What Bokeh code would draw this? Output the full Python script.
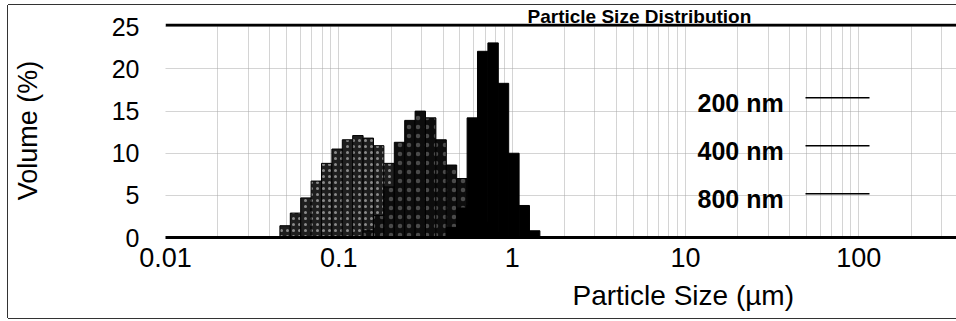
from bokeh.plotting import figure
from bokeh.models import (Range1d, FixedTicker, CustomJSTickFormatter, Label,
                          BoxAnnotation, ColumnDataSource, Title)
from bokeh.embed import file_html
from bokeh.resources import INLINE

# Size classes (µm): lower/upper edges of the instrument's log-spaced bins
size_edges = [0.04571, 0.05248, 0.06026, 0.06918, 0.07943, 0.09120, 0.10471,
              0.12023, 0.13804, 0.15849, 0.18197, 0.20893, 0.23988, 0.27542,
              0.31623, 0.36308, 0.41687, 0.47863, 0.54954, 0.63096, 0.72444,
              0.83176, 0.95499, 1.09648, 1.25893, 1.44544]

# Volume (%) per size class
vol_200nm = [1.4, 2.9, 4.7, 6.7, 8.8, 10.5, 11.6, 12.1, 11.8, 10.9, 8.8, 5.5,
             3.0, 1.2, 0.3, 0, 0, 0, 0, 0, 0, 0, 0, 0, 0]
vol_400nm = [0, 0, 0, 0, 0, 0, 0, 0, 0.8, 2.6, 6.0, 11.3, 13.9, 15.0, 14.2,
             11.6, 8.6, 7.0, 3.8, 1.8, 0.6, 0, 0, 0, 0]
vol_800nm = [0, 0, 0, 0, 0, 0, 0, 0, 0, 0, 0, 0, 0, 0, 0, 0, 1.2, 3.5, 14.2,
             22.1, 23.1, 18.3, 10.0, 3.8, 0.8]

series_names = ["200 nm", "400 nm", "800 nm"]
x_ticks = [0.01, 0.1, 1, 10, 100]
y_ticks = [0, 5, 10, 15, 20, 25]

FONT = "Liberation Sans"

p = figure(width=948, height=313, margin=(5, 0, 0, 8),
           x_axis_type="log", x_range=Range1d(0.01, 366), y_range=Range1d(0, 25.4),
           output_backend="svg", toolbar_location=None,
           min_border_left=157, min_border_right=0, min_border_top=18,
           min_border_bottom=81, background_fill_color="white",
           border_fill_color="white", outline_line_color=None)
p.styles = {"box-shadow": "-1px 0 0 #333, 0 -1px 0 #333, 0 1px 0 #333"}

lower = size_edges[:-1]
upper = size_edges[1:]
styles = [
    dict(fill_color="#1e1e1e", hatch_pattern="dot", hatch_color="#8a8a8a", hatch_scale=6, hatch_weight=1),
    dict(fill_color="#0d0d0d", hatch_pattern="dot", hatch_color="#4a4a4a", hatch_scale=9, hatch_weight=1),
    dict(fill_color="black"),
]
for vals, st in zip([vol_200nm, vol_400nm, vol_800nm], styles):
    src = ColumnDataSource(dict(left=lower, right=upper, top=vals))
    p.quad(left="left", right="right", top="top", bottom=0, source=src,
           line_color="black", line_width=1, **st)

minor = [m * t for t in [0.01, 0.1, 1, 10, 100] for m in range(2, 10)]
p.xaxis.ticker = FixedTicker(ticks=x_ticks, minor_ticks=minor)
p.xaxis.formatter = CustomJSTickFormatter(code="return tick.toString()")
p.yaxis.ticker = FixedTicker(ticks=y_ticks)

for ax in (p.xaxis[0], p.yaxis[0]):
    ax.major_tick_line_color = None
    ax.minor_tick_line_color = None
    ax.major_label_text_font = FONT
    ax.major_label_text_color = "black"
p.xaxis.axis_line_width = 3
p.xaxis.axis_line_color = "black"
p.xaxis.major_label_text_font_size = "27px"
p.xaxis.major_label_standoff = 4
p.yaxis.axis_line_color = None
p.yaxis.major_label_text_font_size = "25px"
p.yaxis.major_label_standoff = 20
p.yaxis.axis_label = "Volume (%)"
p.yaxis.axis_label_text_font = FONT
p.yaxis.axis_label_text_font_size = "27px"
p.yaxis.axis_label_text_font_style = "normal"
p.yaxis.axis_label_text_color = "black"
p.yaxis.axis_label_standoff = 66

for g in (p.xgrid[0], p.ygrid[0]):
    g.grid_line_color = "#a8a8a8"
    g.grid_line_dash = "1 1"
p.xgrid.minor_grid_line_color = "#a8a8a8"
p.xgrid.minor_grid_line_dash = "1 1"

# top thick frame line (extends to the frame's top edge)
p.add_layout(BoxAnnotation(left=0, right=800, bottom=211,
                           left_units="screen", right_units="screen",
                           bottom_units="screen",
                           fill_color="black", fill_alpha=1, line_color=None))

# title (above) and x-axis label (below) as titles, left-aligned with offsets
p.title = Title(text="Particle Size Distribution", align="left", offset=362,
                standoff=-6, text_font=FONT, text_font_size="19px",
                text_font_style="bold", text_color="black")
p.add_layout(Title(text="Particle Size (µm)", align="left", offset=407,
                   standoff=16, text_font=FONT, text_font_size="28px",
                   text_font_style="normal", text_color="black"), "below")

# legend (label followed by line)
leg_y = [134.5, 86.5, 38.5]
for name, yy in zip(series_names, leg_y):
    p.add_layout(Label(x=532, y=yy, x_units="screen", y_units="screen",
                       text=name, text_font=FONT, text_font_size="25px",
                       text_font_style="bold", text_color="black",
                       text_baseline="alphabetic"))
    p.add_layout(BoxAnnotation(left=640, right=704, bottom=yy + 4.5, top=yy + 6,
                               left_units="screen", right_units="screen",
                               bottom_units="screen", top_units="screen",
                               fill_color="black", fill_alpha=1, line_color=None))

open("out.html", "w").write(file_html(p, INLINE))
